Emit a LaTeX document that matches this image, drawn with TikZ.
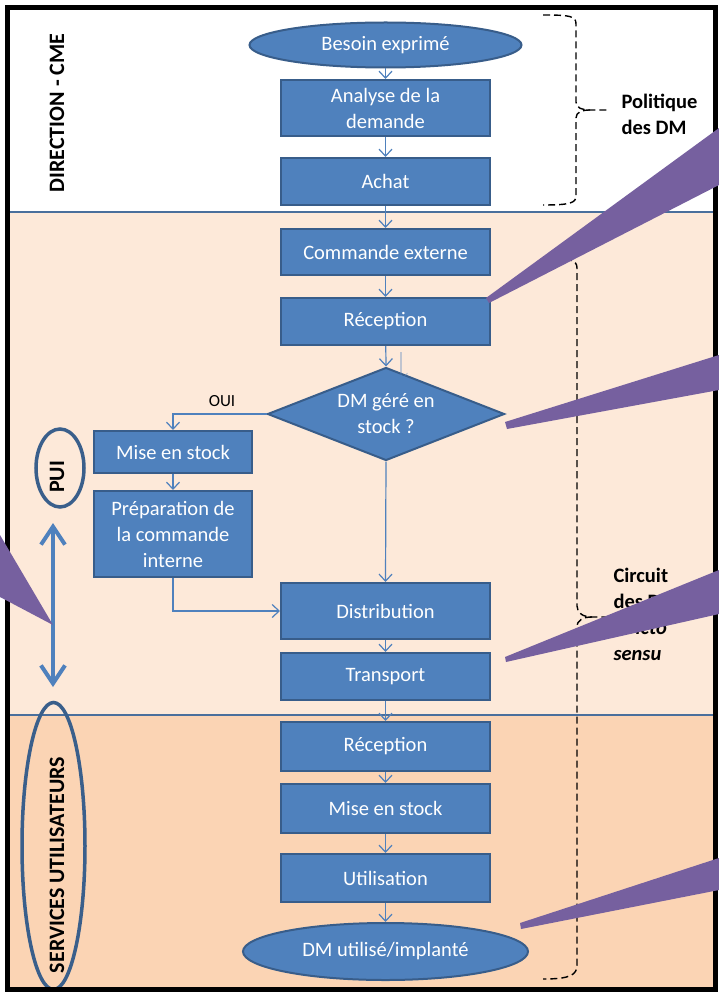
\documentclass[tikz,border=0pt]{standalone}
\usepackage{fontspec}
\setmainfont{Carlito}
\usetikzlibrary{shapes.geometric,arrows.meta}

\definecolor{boxfill}{HTML}{4F81BD}
\definecolor{boxline}{HTML}{385D8A}
\definecolor{peachlight}{HTML}{FDE9D9}
\definecolor{peachdark}{HTML}{FBD4B4}
\definecolor{sepline}{HTML}{4A6F9C}
\definecolor{wedgecol}{HTML}{76609F}
\definecolor{ringline}{HTML}{3A5F8B}

\begin{document}
\begin{tikzpicture}[x=1pt,y=-1pt,
  proc/.style={rectangle, draw=boxline, line width=2pt, fill=boxfill, text=white,
    inner sep=0pt, align=center, font=\fontsize{20.5}{26}\selectfont},
  term/.style={proc, ellipse},
  decide/.style={proc, diamond, aspect=2.55},
  flow/.style={draw=boxfill, line width=1.2pt, -{Straight Barb[length=7pt,width=13pt]}},
  lanelabel/.style={rotate=90, font=\fontsize{22}{26}\selectfont\bfseries},
  ring/.style={ellipse, draw=ringline, line width=3.5pt, inner sep=0pt},
  brace/.style={draw=black, dash pattern=on 7pt off 4pt, line width=1.4pt},
  note/.style={align=left, font=\fontsize{20.5}{26}\selectfont\bfseries, anchor=west},
  callout/.style={fill=wedgecol, draw=none},
]
\useasboundingbox (0,0) rectangle (719,992);
\fill[white] (0,0) rectangle (719,992);

% swim lanes
\fill[peachlight] (7,212) rectangle (715,715);
\fill[peachdark] (7,715) rectangle (715,989);
\draw[sepline, line width=2.5pt] (9,212) -- (713,212);
\draw[sepline, line width=2.5pt] (9,715) -- (713,715);

% lane titles
\node[lanelabel] (lanedir) at (57,113) {DIRECTION - CME};
\node[ring, minimum width=48pt, minimum height=78pt] (puiring) at (60,468) {};
\node[lanelabel] (puitxt) at (57,477) {PUI};
\node[ring, minimum width=63pt, minimum height=287pt] (servring) at (53.5,846) {};
\node[lanelabel] (servtxt) at (57,865) {SERVICES UTILISATEURS};

% span of the PUI lane
\coordinate (spantop) at (53,523);
\coordinate (spanbot) at (53,687);
\draw[boxfill, line width=4pt, {Straight Barb[length=18pt,width=24pt]}-{Straight Barb[length=18pt,width=24pt]}] (spantop) -- (spanbot);

% process steps
\node[term, minimum width=272pt, minimum height=45pt] (besoin) at (385.5,45) {Besoin exprimé};
\node[proc, minimum width=209pt, minimum height=56pt] (analyse) at (385.5,108) {Analyse de la\\demande};
\node[proc, minimum width=209pt, minimum height=47pt] (achat) at (385.5,181.5) {Achat};
\node[proc, minimum width=209pt, minimum height=46pt] (cmdext) at (385.5,252) {Commande externe};
\node[proc, minimum width=209pt, minimum height=47pt] (recep1) at (385.5,321.5) {Réception};
\node[decide, minimum width=237pt, minimum height=93pt] (stockq) at (386,414) {DM géré en\\stock ?};
\node[proc, minimum width=158pt, minimum height=42pt] (mes1) at (173,452) {Mise en stock};
\node[proc, minimum width=158pt, minimum height=86pt] (prep) at (173,534) {Préparation de\\la commande\\interne};
\node[proc, minimum width=209pt, minimum height=56pt] (distrib) at (385.5,611) {Distribution};
\node[proc, minimum width=209pt, minimum height=47pt] (transp) at (385.5,676.5) {Transport};
\node[proc, minimum width=209pt, minimum height=49pt] (recep2) at (385.5,746.5) {Réception};
\node[proc, minimum width=209pt, minimum height=49pt] (mes2) at (385.5,808.5) {Mise en stock};
\node[proc, minimum width=209pt, minimum height=48pt] (util) at (385.5,878) {Utilisation};
\node[term, minimum width=285pt, minimum height=57pt] (dmutil) at (385.5,951.5) {DM utilisé/implanté};

% flow
\draw[flow] (besoin) -- (analyse);
\draw[flow] (analyse) -- (achat);
\draw[flow] (achat) -- (cmdext);
\draw[flow] (cmdext) -- (recep1);
\draw[flow] (recep1) -- (stockq.north);
\draw[flow] (stockq.west) -| (mes1.north);
\node[font=\fontsize{17}{20}\selectfont, anchor=base] (oui) at (222,406) {OUI};
\draw[flow] (mes1) -- (prep);
\draw[flow] (prep.south) |- (distrib.west);
\draw[flow] (stockq.south) -- (distrib.north);
\draw[flow] (distrib) -- (transp);
\draw[flow] (transp) -- (recep2);
\draw[flow] (recep2) -- (mes2);
\draw[flow] (mes2) -- (util);
\draw[flow] (util) -- (dmutil);
\coordinate (ghosttop) at (401,352);
\coordinate (ghostbot) at (401,381);
\draw[flow, draw opacity=0.35] (ghosttop) -- (ghostbot);

% braces
\draw[brace] (543,15) .. controls (570,15) and (576,16) .. (576,24) -- (576,102)
  .. controls (576,108) and (582,110) .. (590,110) -- (608,110);
\draw[brace] (590,110) .. controls (582,110) and (576,112) .. (576,118) -- (576,196)
  .. controls (576,203) and (570,205) .. (543,205);
\node[note] (politique) at (618,114) {Politique\\des DM};

\draw[brace] (543,258) .. controls (570,258) and (577,260) .. (577,268) -- (577,606)
  .. controls (577,613) and (583,617) .. (592,617) -- (612,617);
\draw[brace] (592,617) .. controls (583,617) and (577,620) .. (577,627) -- (577,965)
  .. controls (577,975) and (570,979) .. (543,979);
\node[note] (circuit) at (610,614) {Circuit\\des DM\\\textit{stricto}\\\textit{sensu}};

% frame
\draw[black, line width=5pt] (7.5,7.5) rectangle (715.5,989.5);

% callout pointers
\fill[callout] (486,298) -- (719,128) -- (719,185) -- (489,303) -- cycle;
\fill[callout] (505,422) -- (719,355) -- (719,390) -- (507,429) -- cycle;
\fill[callout] (505,657) -- (719,570) -- (719,614) -- (506,662) -- cycle;
\fill[callout] (520,923) -- (719,858) -- (719,890) -- (521,929) -- cycle;
\fill[callout] (53,625) -- (0,535) -- (0,597) -- cycle;
\end{tikzpicture}
\end{document}
